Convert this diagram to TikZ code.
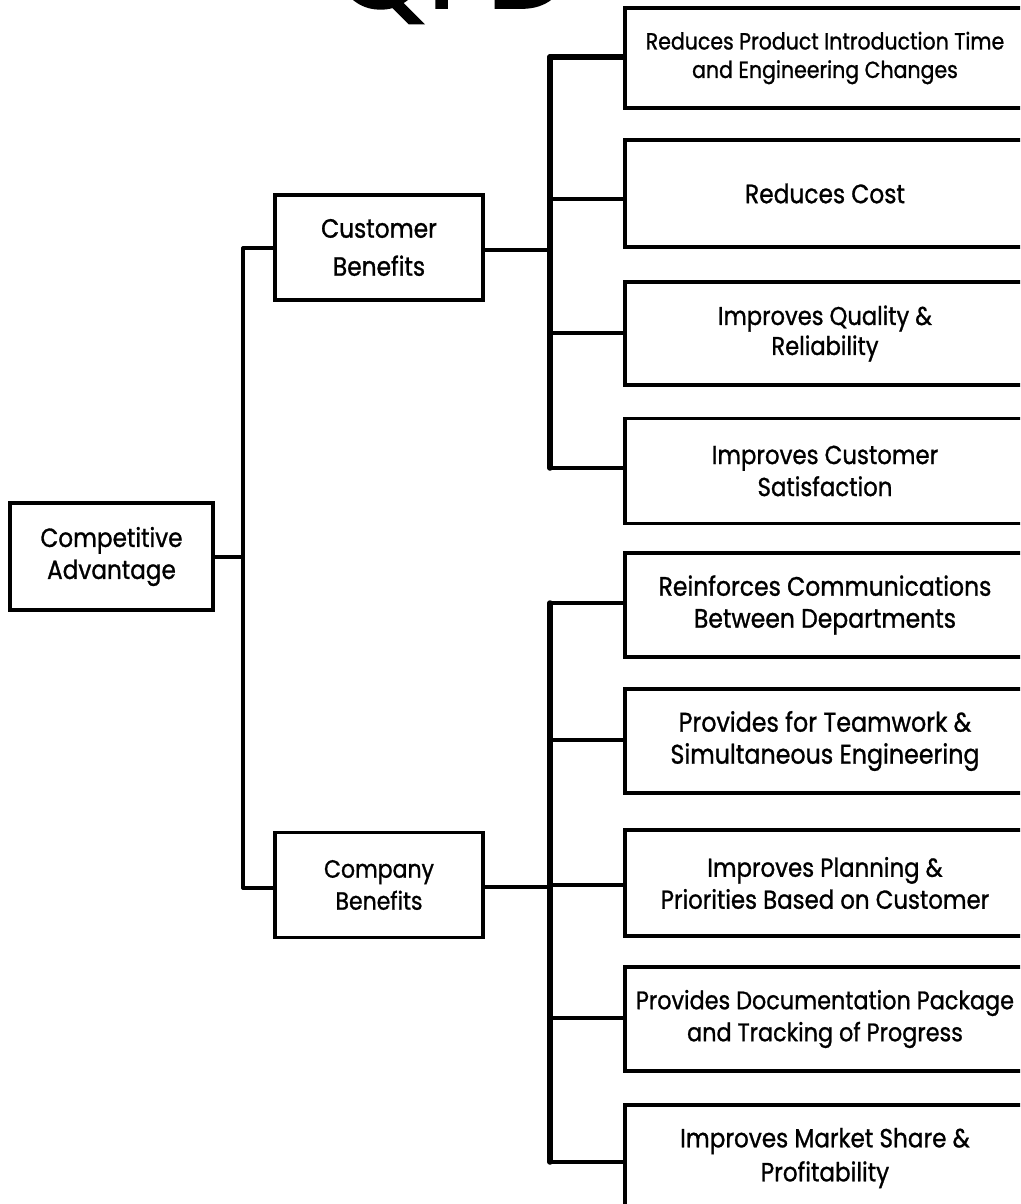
\documentclass[tikz,border=0pt]{standalone}
\usepackage{fontspec}
\setmainfont{Poppins}[FakeStretch=0.88,FakeBold=1.0]
\newfontfamily\titlefont{Poppins}[FakeBold=1.5]
\begin{document}
\begin{tikzpicture}[x=1pt,y=-1pt,
  frame/.style={draw=black,line width=3.3pt,fill=white,inner sep=0pt,align=center},
  leafbox/.style={frame,minimum width=400pt},
  midbox/.style={frame,minimum width=208pt,minimum height=105pt},
  fs/.style={font=\fontsize{#1pt}{\dimexpr #1pt*5/4\relax}\selectfont},
  fsl/.style 2 args={font=\fontsize{#1pt}{#2pt}\selectfont},
  wire/.style={line width=3.3pt,line cap=round},
  bus/.style={line width=5.5pt,line cap=round}]
\clip (0,0) rectangle (1020,1204);
\fill[white] (0,0) rectangle (1020,1204);

% heading, mostly above the page edge
\node[anchor=base,font=\titlefont\fontsize{118pt}{118pt}\selectfont,inner sep=0pt] (title) at (452,8) {QFD};

% left column
\node[frame,minimum width=203pt,minimum height=107pt,fsl={26.3}{32}] (ca) at (111.5,556.5) {Competitive\\Advantage};
\node[midbox,fsl={26.5}{38}] (cb) at (379,247.5) {Customer\\Benefits};
\node[midbox,fsl={25}{32}] (cob) at (379,885) {Company\\Benefits};

% customer benefit boxes
\node[leafbox,minimum height=100pt,fsl={23.3}{28.5}] (b1) at (825,58) {Reduces Product Introduction Time\\and Engineering Changes};
\node[leafbox,minimum height=107pt,fs=26.5] (b2) at (825,193.5) {Reduces Cost};
\node[leafbox,minimum height=103pt,fsl={25.7}{30}] (b3) at (825,333.5) {Improves Quality \&\\Reliability};
\node[leafbox,minimum height=105pt,fsl={26}{32}] (b4) at (825,471) {Improves Customer\\Satisfaction};

% company benefit boxes
\node[leafbox,minimum height=104pt,fsl={26.7}{32}] (b5) at (825,605) {Reinforces Communications\\Between Departments};
\node[leafbox,minimum height=104pt,fsl={27}{32}] (b6) at (825,741) {Provides for Teamwork \&\\Simultaneous Engineering};
\node[leafbox,minimum height=106pt,fsl={26}{32}] (b7) at (825,883) {Improves Planning \&\\Priorities Based on Customer};
\node[leafbox,minimum height=104pt,fsl={25.4}{32}] (b8) at (825,1019) {Provides Documentation Package\\and Tracking of Progress};
\node[leafbox,minimum height=106pt,fsl={26.3}{34}] (b9) at (825,1158) {Improves Market Share \&\\Profitability};

% junction points
\coordinate (lj) at (243,557);
\coordinate (lt) at (243,248);
\coordinate (lb) at (243,888);
\coordinate (t1) at (550,57);
\coordinate (t2) at (550,199);
\coordinate (t3) at (550,333);
\coordinate (t4) at (550,468);
\coordinate (tc) at (550,250);
\coordinate (u1) at (550,603);
\coordinate (u2) at (550,740);
\coordinate (u3) at (550,885);
\coordinate (u4) at (550,1018);
\coordinate (u5) at (550,1162);
\coordinate (uc) at (550,887);

% left bus
\draw[wire] (lt) -- (lb);
\draw[wire] (ca.east |- lj) -- (lj);
\draw[wire] (lt) -- (cb.west |- lt);
\draw[wire] (lb) -- (cob.west |- lb);

% customer bus
\draw[bus] (t1) -- (t4);
\draw[bus] (t1) -- (b1.west |- t1);
\draw[wire] (t2) -- (b2.west |- t2);
\draw[wire] (t3) -- (b3.west |- t3);
\draw[wire] (t4) -- (b4.west |- t4);
\draw[wire] (cb.east |- tc) -- (tc);

% company bus
\draw[bus] (u1) -- (u5);
\draw[wire] (u1) -- (b5.west |- u1);
\draw[wire] (u2) -- (b6.west |- u2);
\draw[wire] (u3) -- (b7.west |- u3);
\draw[wire] (u4) -- (b8.west |- u4);
\draw[wire] (u5) -- (b9.west |- u5);
\draw[wire] (cob.east |- uc) -- (uc);
\end{tikzpicture}
\end{document}
